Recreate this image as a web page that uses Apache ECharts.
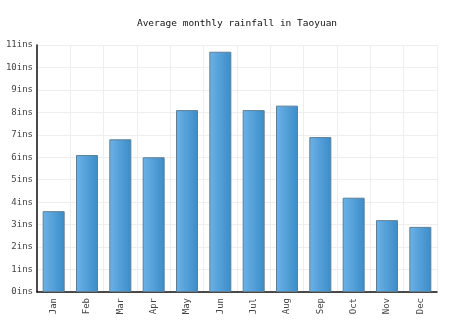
<!DOCTYPE html>
<html><head><meta charset="utf-8">
<script src="https://cdn.jsdelivr.net/npm/echarts@6/dist/echarts.min.js"></script>
<style>html,body{margin:0;padding:0;background:#fff}#c{width:474px;height:331px}</style>
</head><body><div id="c"></div>
<script>
const months = ['Jan','Feb','Mar','Apr','May','Jun','Jul','Aug','Sep','Oct','Nov','Dec'];
const rainfall = [3.6, 6.1, 6.8, 6.0, 8.1, 10.7, 8.1, 8.3, 6.9, 4.2, 3.2, 2.9];
const titleText = 'Average monthly rainfall in Taoyuan';
const unit = 'ins';

const chart = echarts.init(document.getElementById('c'));
const font = 'DejaVu Sans Mono';
chart.setOption({
  animation: false,
  title: {text: titleText, left: 'center', top: 14,
    textStyle: {fontFamily: font, fontSize: 9.5, fontWeight: 'normal', color: '#111'}},
  grid: {left: 37, right: 37, top: 45, bottom: 39, containLabel: false},
  xAxis: {type: 'category', data: months,
    axisLine: {lineStyle: {color: '#111', width: 1.5}},
    axisTick: {show: false},
    splitLine: {show: true, lineStyle: {color: '#eeeeee'}},
    axisLabel: {rotate: 90, fontFamily: font, fontSize: 9, color: '#444', margin: 6}},
  yAxis: {type: 'value', min: 0, max: 11, interval: 1,
    axisLine: {show: true, lineStyle: {color: '#111', width: 1.5}},
    axisTick: {show: false},
    splitLine: {lineStyle: {color: '#eeeeee'}},
    axisLabel: {formatter: v => v + unit, fontFamily: font, fontSize: 9, color: '#444', margin: 4}},
  series: [{type: 'bar', data: rainfall, barWidth: 22,
    itemStyle: {
      color: new echarts.graphic.LinearGradient(0, 0, 1, 0, [
        {offset: 0, color: '#6cb2e8'}, {offset: 1, color: '#3a8cc8'}]),
      borderColor: '#5f7f95', borderWidth: 1}}]
});
</script></body></html>
